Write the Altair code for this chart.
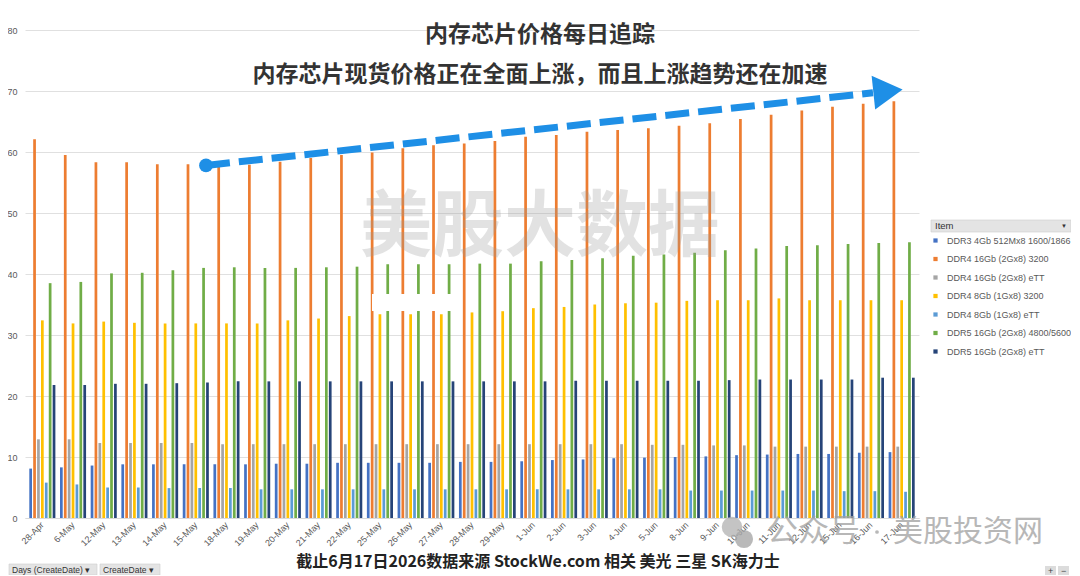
import altair as alt
import pandas as pd

dates = ["28-Apr", "6-May", "12-May", "13-May", "14-May", "15-May", "18-May", "19-May",
         "20-May", "21-May", "22-May", "25-May", "26-May", "27-May", "28-May", "29-May",
         "1-Jun", "2-Jun", "3-Jun", "4-Jun", "5-Jun", "8-Jun", "9-Jun", "10-Jun", "11-Jun",
         "12-Jun", "15-Jun", "16-Jun", "17-Jun"]

items = ["DDR3 4Gb 512Mx8 1600/1866", "DDR4 16Gb (2Gx8) 3200", "DDR4 16Gb (2Gx8) eTT",
         "DDR4 8Gb (1Gx8) 3200", "DDR4 8Gb (1Gx8) eTT", "DDR5 16Gb (2Gx8) 4800/5600",
         "DDR5 16Gb (2Gx8) eTT"]
colors = ["#4472C4", "#ED7D31", "#A5A5A5", "#FFC000", "#5B9BD5", "#70AD47", "#264478"]

ddr3_4gb = [8.1, 8.3, 8.6, 8.8, 8.8, 8.8, 8.8, 8.8, 8.9, 8.9, 9.05, 9.05, 9.05, 9.05, 9.2,
            9.2, 9.3, 9.5, 9.6, 9.8, 9.9, 10.0, 10.1, 10.3, 10.4, 10.5, 10.5, 10.7, 10.8]
ddr4_16_3200 = [62.1, 59.5, 58.3, 58.3, 58.0, 58.0, 57.8, 57.9, 58.4, 59.0, 59.5, 59.9, 60.6,
                61.1, 61.4, 61.8, 62.5, 62.8, 63.3, 63.6, 63.9, 64.3, 64.7, 65.4, 66.1, 66.8,
                67.4, 67.9, 68.3]
ddr4_16_ett = [12.9, 12.9, 12.3, 12.3, 12.3, 12.3, 12.1, 12.1, 12.1, 12.1, 12.1, 12.1, 12.1,
               12.1, 12.1, 12.1, 12.1, 12.1, 12.1, 12.1, 12.0, 12.0, 11.9, 11.9, 11.7, 11.7,
               11.7, 11.7, 11.7]
ddr4_8_3200 = [32.4, 31.9, 32.2, 32.0, 31.9, 31.9, 31.9, 31.9, 32.4, 32.7, 33.1, 33.4, 33.4,
               33.4, 33.7, 33.9, 34.4, 34.6, 35.0, 35.2, 35.3, 35.6, 35.7, 35.7, 36.0, 35.7,
               35.7, 35.7, 35.7]
ddr4_8_ett = [5.8, 5.5, 5.0, 5.0, 4.9, 4.9, 4.9, 4.7, 4.7, 4.7, 4.7, 4.7, 4.7, 4.7, 4.7, 4.7,
              4.7, 4.7, 4.7, 4.7, 4.7, 4.5, 4.5, 4.5, 4.5, 4.5, 4.4, 4.4, 4.3]
ddr5_16_4800 = [38.5, 38.7, 40.1, 40.2, 40.6, 41.0, 41.1, 41.0, 41.0, 41.1, 41.2, 41.6, 41.6,
                41.6, 41.7, 41.7, 42.1, 42.3, 42.6, 43.0, 43.2, 43.5, 43.9, 44.2, 44.6, 44.7,
                44.9, 45.1, 45.2]
ddr5_16_ett = [21.8, 21.8, 22.0, 22.0, 22.1, 22.2, 22.4, 22.4, 22.4, 22.4, 22.4, 22.4, 22.4,
               22.4, 22.4, 22.4, 22.4, 22.5, 22.5, 22.5, 22.5, 22.5, 22.6, 22.7, 22.7, 22.7,
               22.7, 23.0, 23.0]

series = [ddr3_4gb, ddr4_16_3200, ddr4_16_ett, ddr4_8_3200, ddr4_8_ett, ddr5_16_4800, ddr5_16_ett]

title_text = "内存芯片价格每日追踪"
subtitle_text = "内存芯片现货价格正在全面上涨，而且上涨趋势还在加速"
source_text = "截止6月17日2026数据来源 StockWe.com 相关 美光 三星 SK海力士"
watermark_text = "美股大数据"
wechat_a_text = "公众号"
wechat_b_text = "美股投资网"

rows = []
for item, vals in zip(items, series):
    for d, v in zip(dates, vals):
        rows.append({"date": d, "item": item, "value": v})
df = pd.DataFrame(rows)
one = pd.DataFrame({"k": [0]})

CJK = "Noto Sans CJK SC"
LAT = "Liberation Sans"

bars = alt.Chart(df).mark_bar().encode(
    x=alt.X("date:N", sort=dates, title=None,
            scale=alt.Scale(paddingInner=0.15, paddingOuter=0.14),
            axis=alt.Axis(labelAngle=-45, labelAlign="right", labelBaseline="middle",
                          labelFontSize=9, labelColor="#595959", labelFont=LAT,
                          ticks=False, domainColor="#d9d9d9", labelPadding=5,
                          grid=False)),
    xOffset=alt.XOffset("item:N", sort=items,
                        scale=alt.Scale(paddingInner=0.3, paddingOuter=0)),
    y=alt.Y("value:Q", title=None,
            scale=alt.Scale(domain=[0, 80], nice=False),
            axis=alt.Axis(values=list(range(0, 81, 10)), domain=False, ticks=False,
                          labelFontSize=9, labelColor="#595959", labelFont=LAT,
                          labelPadding=8, gridColor="#e0e0e0")),
    color=alt.Color("item:N", sort=items,
                    scale=alt.Scale(domain=items, range=colors),
                    legend=alt.Legend(orient="none", legendX=906, legendY=206, title=None,
                                      symbolType="square", symbolSize=18,
                                      symbolStrokeWidth=0, labelFontSize=9,
                                      labelColor="#595959", labelFont=LAT,
                                      rowPadding=8.5, labelOffset=7, padding=0)),
)

white_patch = alt.Chart(one).mark_rect(color="white").encode(
    x=alt.value(347), x2=alt.value(427), y=alt.value(264), y2=alt.value(281))

watermark = alt.Chart(one).mark_text(font=CJK, fontSize=72, fontWeight="bold",
                                     color="#9a9a9a", opacity=0.28, align="center",
                                     baseline="middle").encode(
    x=alt.value(515), y=alt.value(198), text=alt.value(watermark_text))

arrow_line = alt.Chart(one).mark_rule(color="#1E8FE6", strokeWidth=7,
                                      strokeDash=[24, 9]).encode(
    x=alt.value(181), x2=alt.value(848),
    y=alt.Y(datum=57.8), y2=alt.Y2(datum=69.7))

arrow_dot = alt.Chart(one).mark_point(filled=True, color="#1E8FE6", opacity=1,
                                      size=190).encode(
    x=alt.value(181), y=alt.Y(datum=57.8))

arrow_head = alt.Chart(one).mark_point(filled=True, color="#1E8FE6", opacity=1,
                                       shape="triangle-right", size=1150,
                                       angle=354).encode(
    x=alt.value(863), y=alt.Y(datum=70.0))

title = alt.Chart(one).mark_text(font=CJK, fontSize=23, fontWeight="bold",
                                 color="#333333", align="center",
                                 baseline="middle").encode(
    x=alt.value(515), y=alt.value(5), text=alt.value(title_text))

subtitle = alt.Chart(one).mark_text(font=CJK, fontSize=23, fontWeight="bold",
                                    color="#333333", align="center",
                                    baseline="middle").encode(
    x=alt.value(515), y=alt.value(45), text=alt.value(subtitle_text))

source = alt.Chart(one).mark_text(font=CJK, fontSize=16, fontWeight="bold",
                                  color="#222222", align="center",
                                  baseline="middle").encode(
    x=alt.value(513), y=alt.value(532), text=alt.value(source_text))

wechat_icon_a = alt.Chart(one).mark_point(filled=True, color="#b0b0b0", opacity=0.75,
                                          size=420).encode(
    x=alt.value(707), y=alt.value(497))
wechat_icon_b = alt.Chart(one).mark_point(filled=True, color="#a8a8a8", opacity=0.8,
                                          size=330).encode(
    x=alt.value(719), y=alt.value(509))
wechat_a = alt.Chart(one).mark_text(font=CJK, fontSize=31, color="#a0a0a0", opacity=0.75,
                                    align="left", baseline="middle").encode(
    x=alt.value(742), y=alt.value(502), text=alt.value(wechat_a_text))
wechat_dot = alt.Chart(one).mark_point(filled=True, color="#a0a0a0", opacity=0.75,
                                       size=14).encode(
    x=alt.value(852), y=alt.value(502))
wechat_b = alt.Chart(one).mark_text(font=CJK, fontSize=30, color="#a0a0a0", opacity=0.75,
                                    align="left", baseline="middle").encode(
    x=alt.value(868), y=alt.value(502), text=alt.value(wechat_b_text))

header_box = alt.Chart(one).mark_rect(color="#e4e4e4", stroke="#cfcfcf",
                                      strokeWidth=0.6).encode(
    x=alt.value(906), x2=alt.value(1046), y=alt.value(190), y2=alt.value(202))
header_text = alt.Chart(one).mark_text(font=LAT, fontSize=9.5, color="#333333",
                                       align="left", baseline="middle").encode(
    x=alt.value(910), y=alt.value(196), text=alt.value("Item"))
header_arrow = alt.Chart(one).mark_text(font=LAT, fontSize=6, color="#333333",
                                        align="center", baseline="middle").encode(
    x=alt.value(1039), y=alt.value(196), text=alt.value("▼"))

btn1 = alt.Chart(one).mark_rect(color="#e4e4e4", stroke="#cfcfcf", strokeWidth=0.6).encode(
    x=alt.value(-16), x2=alt.value(72), y=alt.value(534), y2=alt.value(545))
btn1_t = alt.Chart(one).mark_text(font=LAT, fontSize=8.5, color="#333333", align="left",
                                  baseline="middle").encode(
    x=alt.value(-13), y=alt.value(540), text=alt.value("Days (CreateDate) ▾"))
btn2 = alt.Chart(one).mark_rect(color="#e4e4e4", stroke="#cfcfcf", strokeWidth=0.6).encode(
    x=alt.value(75), x2=alt.value(135), y=alt.value(534), y2=alt.value(545))
btn2_t = alt.Chart(one).mark_text(font=LAT, fontSize=8.5, color="#333333", align="left",
                                  baseline="middle").encode(
    x=alt.value(78), y=alt.value(540), text=alt.value("CreateDate ▾"))
btn3 = alt.Chart(one).mark_rect(color="#dcdcdc").encode(
    x=alt.value(1020), x2=alt.value(1031), y=alt.value(536), y2=alt.value(545))
btn3_t = alt.Chart(one).mark_text(font=LAT, fontSize=9, color="#444444", align="center",
                                  baseline="middle").encode(
    x=alt.value(1025.5), y=alt.value(540.5), text=alt.value("+"))
btn4 = alt.Chart(one).mark_rect(color="#dcdcdc").encode(
    x=alt.value(1033), x2=alt.value(1044), y=alt.value(536), y2=alt.value(545))
btn4_t = alt.Chart(one).mark_text(font=LAT, fontSize=9, color="#444444", align="center",
                                  baseline="middle").encode(
    x=alt.value(1038.5), y=alt.value(540.5), text=alt.value("−"))

chart = alt.layer(
    bars, white_patch, watermark, arrow_line, arrow_dot, arrow_head, title, subtitle,
    source, wechat_icon_a, wechat_icon_b, wechat_a, wechat_dot, wechat_b, header_box,
    header_text, header_arrow, btn1, btn1_t, btn2, btn2_t, btn3, btn3_t, btn4, btn4_t
).properties(
    width=894, height=488,
    padding={"left": 17, "top": 22, "right": 152, "bottom": 57},
    autosize=alt.AutoSizeParams(type="none"),
).configure_view(stroke=None)

chart.save("out.html", embed_options={"renderer": "svg", "actions": False})
